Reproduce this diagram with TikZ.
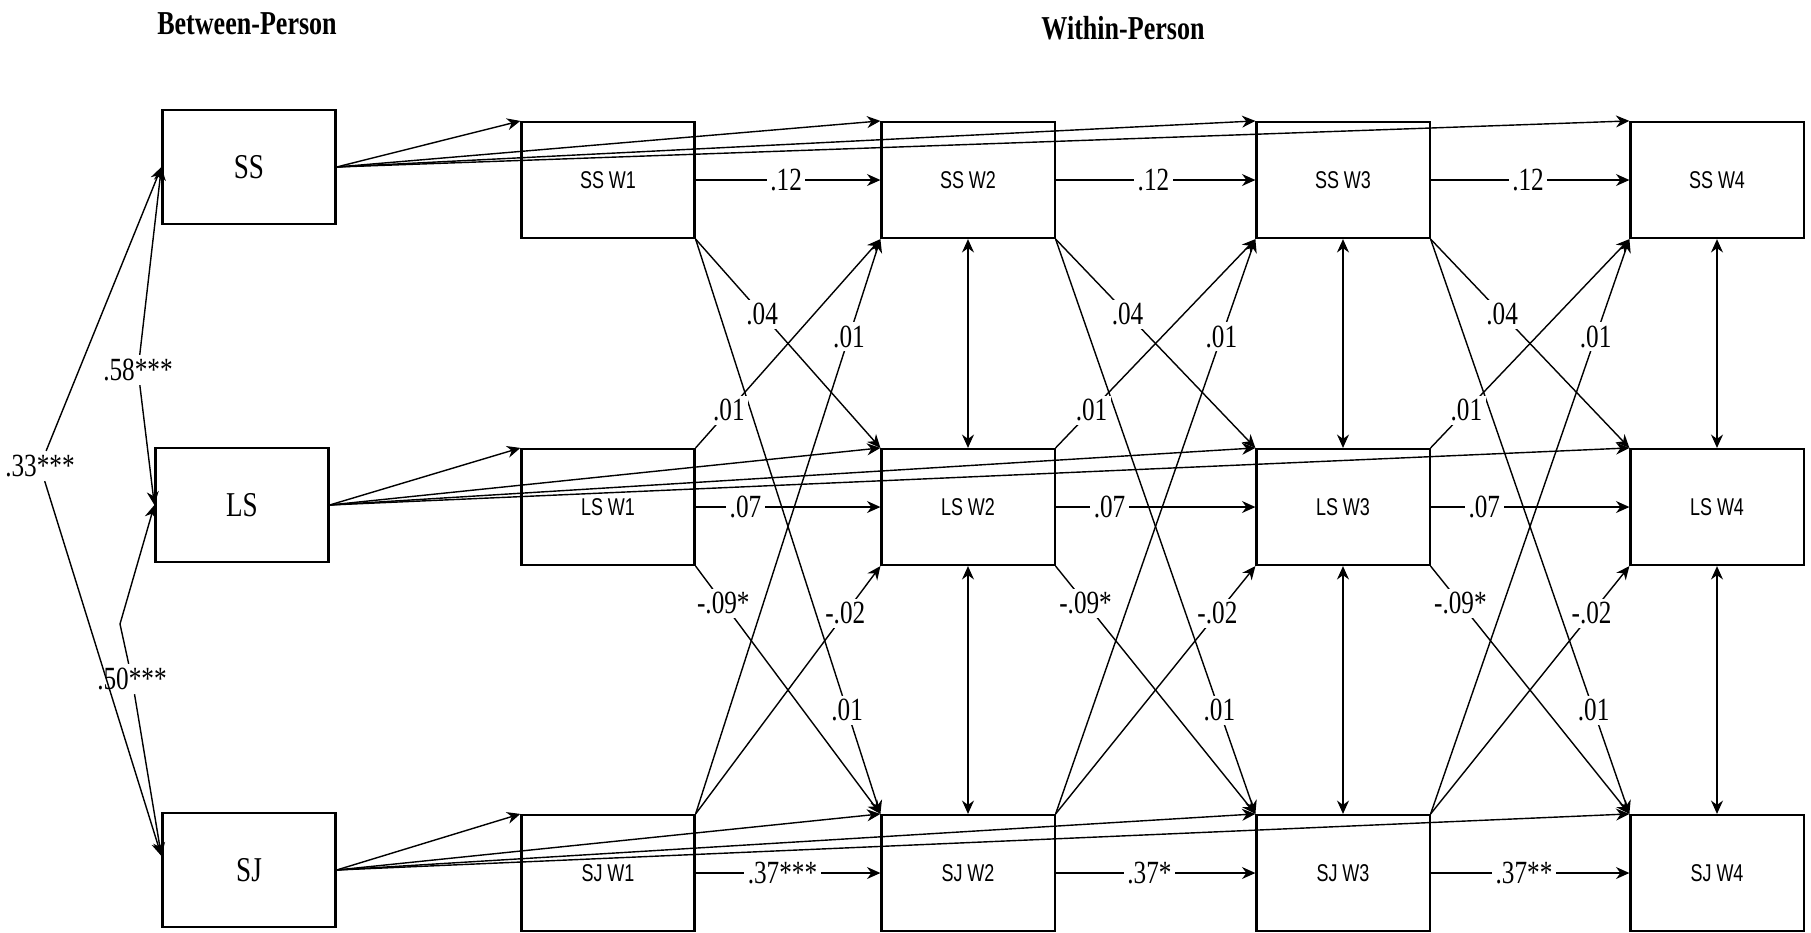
\documentclass[tikz,border=0pt]{standalone}
\usepackage{fontspec}
\setmainfont{Liberation Serif}[FakeStretch=0.78]
\newfontfamily\boxfont{Liberation Sans}[FakeStretch=0.74]
\usetikzlibrary{arrows.meta,positioning}

\tikzset{
  between/.style={draw, line width=0.6pt, minimum width=1.73cm, minimum height=1.14cm, font=\fontsize{9.9}{11}\selectfont},
  wave/.style={draw, line width=0.6pt, minimum width=1.73cm, minimum height=1.16cm, font=\boxfont\fontsize{6.9}{8}\selectfont},
  link/.style={-{Stealth[length=3.8pt,width=3.4pt]}, line width=0.4pt},
  dlink/.style={{Stealth[length=3.8pt,width=3.4pt]}-{Stealth[length=3.8pt,width=3.4pt]}, line width=0.4pt},
  coef/.style={fill=white, inner sep=1pt, font=\fontsize{9.2}{11}\selectfont},
  head/.style={font=\bfseries\fontsize{9.5}{11}\selectfont}
}

\begin{document}
\begin{tikzpicture}[x=0.01cm, y=-0.01cm]
    \useasboundingbox (0,0) rectangle (1811,932);

    \node[head] (tbetween) at (247,24) {Between-Person};
    \node[head] (twithin) at (1123,28) {Within-Person};

    \node[between] (SS) at (249,167) {SS};
    \node[between] (LS) at (242,505) {LS};
    \node[between] (SJ) at (249,870) {SJ};

    \foreach \x/\i in {608/1, 968/2, 1343/3, 1717/4} {
        \node[wave] (SSW\i) at (\x,180) {SS W\i};
        \node[wave] (LSW\i) at (\x,507) {LS W\i};
        \node[wave] (SJW\i) at (\x,873) {SJ W\i};
    }

    % between-person correlations
    \node[coef] (r58) at (138,370) {.58***};
    \node[coef] (r33) at (40,466) {.33***};
    \node[coef] (r50) at (132,679) {.50***};
    \coordinate (b50) at (120,624);
    \draw[link] (r58) -- (SS.west);
    \draw[link] (r58) -- (LS.west);
    \draw[link] (r33) -- (SS.west);
    \draw[link] (r33) -- ([yshift=4pt]SJ.west);
    \draw[link] (r50) -- (b50) -- (LS.west);
    \draw[link] (r50) -- ([yshift=4pt]SJ.west);

    % between-person factors to every wave
    \foreach \i in {1,...,4} {
        \draw[link] (SS.east) -- (SSW\i.north west);
        \draw[link] (LS.east) -- (LSW\i.north west);
        \draw[link] (SJ.east) -- (SJW\i.north west);
    }

    % within-person covariances
    \foreach \i in {2,3,4} {
        \draw[dlink] (SSW\i) -- (LSW\i);
        \draw[dlink] (LSW\i) -- (SJW\i);
    }

    % cross-lagged paths
    \foreach \a/\b/\sj in {1/2/.37***, 2/3/.37*, 3/4/.37**} {
        \draw[link] (SSW\a) -- node[coef, pos=0.49] {.12} (SSW\b);
        \draw[link] (LSW\a) -- node[coef, pos=0.27] {.07} (LSW\b);
        \draw[link] (SJW\a) -- node[coef, pos=0.47] {\sj} (SJW\b);
        \draw[link] (SSW\a.south east) -- node[coef, pos=0.36] {.04} (LSW\b.north west);
        \draw[link] (SSW\a.south east) -- node[coef, pos=0.82] {.01} (SJW\b.north west);
        \draw[link] (LSW\a.north east) -- node[coef, pos=0.18] {.01} (SSW\b.south west);
        \draw[link] (LSW\a.south east) -- node[coef, pos=0.15] {-.09*} (SJW\b.north west);
        \draw[link] (SJW\a.north east) -- node[coef, pos=0.83] {.01} (SSW\b.south west);
        \draw[link] (SJW\a.north east) -- node[coef, pos=0.81] {-.02} (LSW\b.south west);
    }
\end{tikzpicture}
\end{document}
